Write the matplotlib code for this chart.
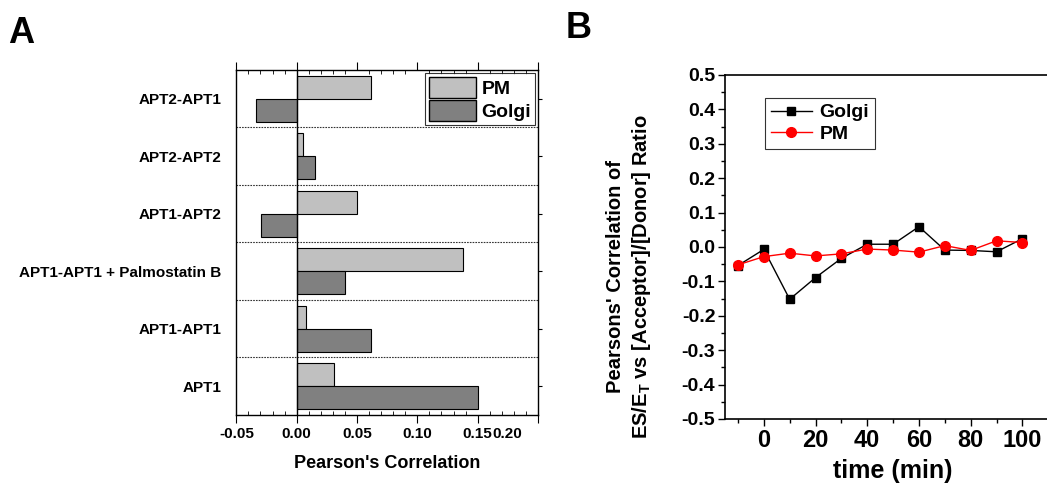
import numpy as np
import matplotlib
matplotlib.use("Agg")
import matplotlib.pyplot as plt
from matplotlib.patches import Patch
from matplotlib.ticker import MultipleLocator
from matplotlib.transforms import ScaledTranslation

plt.rcParams['font.family'] = ['Liberation Sans', 'DejaVu Sans']
plt.rcParams['font.weight'] = 'bold'
plt.rcParams['axes.labelweight'] = 'bold'
plt.rcParams['axes.unicode_minus'] = False
plt.rcParams['mathtext.fontset'] = 'custom'
plt.rcParams['mathtext.rm'] = 'Liberation Sans:bold'
plt.rcParams['mathtext.bf'] = 'Liberation Sans:bold'

# panel A data (bottom to top)
categories = ["APT1", "APT1-APT1", "APT1-APT1 + Palmostatin B",
              "APT1-APT2", "APT2-APT2", "APT2-APT1"]
pm_corr = [0.0307, 0.0077, 0.1376, 0.0497, 0.0055, 0.0613]
golgi_corr = [0.1506, 0.0619, 0.0403, -0.0293, 0.0155, -0.034]

# panel B data
time_min = [-10, 0, 10, 20, 30, 40, 50, 60, 70, 80, 90, 100]
golgi_t = [-0.054, -0.007, -0.152, -0.089, -0.033, 0.008, 0.008, 0.059, -0.009, -0.010, -0.014, 0.024]
pm_t = [-0.052, -0.028, -0.018, -0.026, -0.020, -0.006, -0.009, -0.015, 0.004, -0.010, 0.018, 0.013]

fig = plt.figure(figsize=(10.47, 4.86), dpi=100)

# ---------- panel A ----------
ax1 = fig.add_axes([0.2254, 0.1461, 0.2884, 0.7099])
ypos = np.arange(len(categories))
h = 0.4
ax1.barh(ypos + h/2, pm_corr, height=h, color='#c0c0c0', edgecolor='black', linewidth=0.8)
ax1.barh(ypos - h/2, golgi_corr, height=h, color='#808080', edgecolor='black', linewidth=0.8)
ax1.axvline(0, color='black', linewidth=1.0)
for b in ypos[:-1] + 0.5:
    ax1.axhline(b, color='#333333', linewidth=0.8, linestyle=(0, (1.5, 1)))
ax1.set_xlim(-0.0503, 0.2)
ax1.set_ylim(-0.5, 5.5)
ax1.set_yticks(ypos)
ax1.set_yticklabels(categories, fontsize=11, fontweight='bold')
ax1.tick_params(axis='y', left=False, right=True, direction='out', length=3, pad=7.5)
ax1.xaxis.set_minor_locator(MultipleLocator(0.01))
ax1.set_xticks([-0.05, 0.0, 0.05, 0.10, 0.15, 0.20])
ax1.set_xticklabels(["-0.05", "0.00", "0.05", "0.10", "0.15", "0.20"], fontsize=11, fontweight='bold')
ax1.tick_params(axis='x', which='major', direction='out', length=6, top=True, pad=3)
ax1.tick_params(axis='x', which='minor', direction='in', length=3, top=True)
# origin squeezed the last label against 0.15
lab = ax1.get_xticklabels()[-1]
lab.set_transform(lab.get_transform() + ScaledTranslation(-0.31, 0, fig.dpi_scale_trans))
ax1.set_xlabel("Pearson's Correlation", fontsize=13, fontweight='bold', labelpad=10)
for s in ax1.spines.values():
    s.set_linewidth(1.0)
leg1 = ax1.legend(handles=[Patch(facecolor='#c0c0c0', edgecolor='black', label='PM'),
                           Patch(facecolor='#808080', edgecolor='black', label='Golgi')],
                  loc='upper right', prop={'weight': 'bold', 'size': 14},
                  handlelength=2.4, handleheight=1.3, handletextpad=0.3,
                  borderpad=0.2, labelspacing=0.1, borderaxespad=0.15, fancybox=False)
leg1.get_frame().set_edgecolor('black')
leg1.get_frame().set_linewidth(0.8)

# ---------- panel B ----------
ax2 = fig.add_axes([0.6925, 0.1379, 0.321, 0.7078])
ax2.plot(time_min, golgi_t, color='black', linewidth=1.0, marker='s', markersize=6, label='Golgi')
ax2.plot(time_min, pm_t, color='red', linewidth=1.0, marker='o', markersize=7, label='PM')
ax2.set_xlim(-15, 115)
ax2.set_ylim(-0.5, 0.5)
ax2.xaxis.set_major_locator(MultipleLocator(20))
ax2.xaxis.set_minor_locator(MultipleLocator(10))
ax2.yaxis.set_major_locator(MultipleLocator(0.1))
ax2.yaxis.set_minor_locator(MultipleLocator(0.05))
ax2.tick_params(which='major', direction='out', length=5, width=1)
ax2.tick_params(which='minor', direction='out', length=3, width=1)
ax2.tick_params(axis='x', labelsize=17, pad=2)
ax2.tick_params(axis='y', labelsize=14, pad=2)
for t in ax2.get_xticklabels() + ax2.get_yticklabels():
    t.set_fontweight('bold')
ax2.set_xlabel("time (min)", fontsize=18, fontweight='bold', labelpad=5)
ax2.set_ylabel("Pearsons' Correlation of\nES/E$_{\\mathbf{T}}$ vs [Acceptor]/[Donor] Ratio",
               fontsize=14.5, fontweight='bold', multialignment='center', linespacing=1.3)
ax2.yaxis.set_label_coords(-0.214, 0.413)
for s in ax2.spines.values():
    s.set_linewidth(1.2)
leg2 = ax2.legend(loc='upper left', bbox_to_anchor=(0.119, 0.933), borderaxespad=0,
                  prop={'weight': 'bold', 'size': 14}, handlelength=2.1,
                  handletextpad=0.4, borderpad=0.3, labelspacing=0.2, fancybox=False)
leg2.get_frame().set_edgecolor('black')
leg2.get_frame().set_linewidth(0.8)

fig.text(0.0076, 0.9115, "A", fontsize=26, fontweight='bold', va='baseline')
fig.text(0.540, 0.9218, "B", fontsize=26, fontweight='bold', va='baseline')

fig.savefig("out.png", dpi=100)
